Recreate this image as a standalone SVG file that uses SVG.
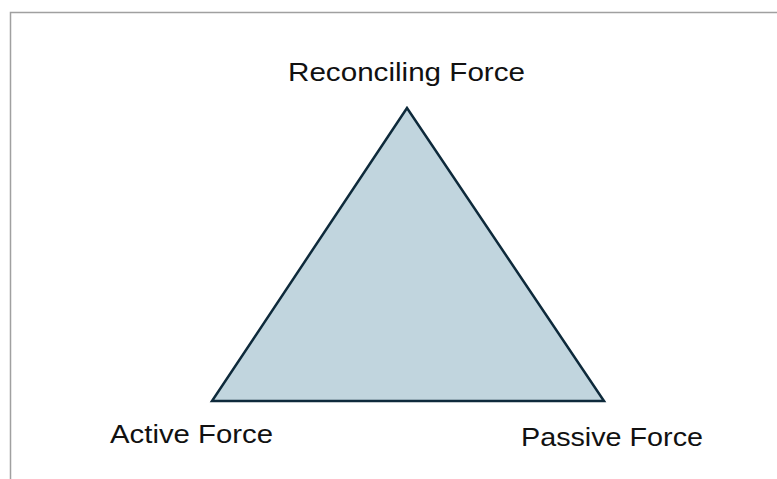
<svg xmlns="http://www.w3.org/2000/svg" width="777" height="479" viewBox="0 0 777 479">
<style>
.lbl{font-family:"Liberation Sans",Arial,sans-serif;font-size:25px;fill:#111}
.frame{stroke:#a0a0a0;stroke-width:1.5;fill:none}
</style>
<rect x="0" y="0" width="777" height="479" fill="#fff"/>
<path class="frame" d="M10.5 479V12.5H777"/>
<g id="triangle">
<polygon points="407,108 212,401 604,401" fill="#c1d5de" stroke="#0e2a3b" stroke-width="2.5" stroke-linejoin="miter"/>
</g>
<g id="reconciling"><text class="lbl" x="288" y="81" textLength="237" lengthAdjust="spacingAndGlyphs">Reconciling Force</text></g>
<g id="active"><text class="lbl" x="110" y="443" textLength="163" lengthAdjust="spacingAndGlyphs">Active Force</text></g>
<g id="passive"><text class="lbl" x="521" y="446" textLength="182" lengthAdjust="spacingAndGlyphs">Passive Force</text></g>
<g id="connectors"></g>
</svg>
